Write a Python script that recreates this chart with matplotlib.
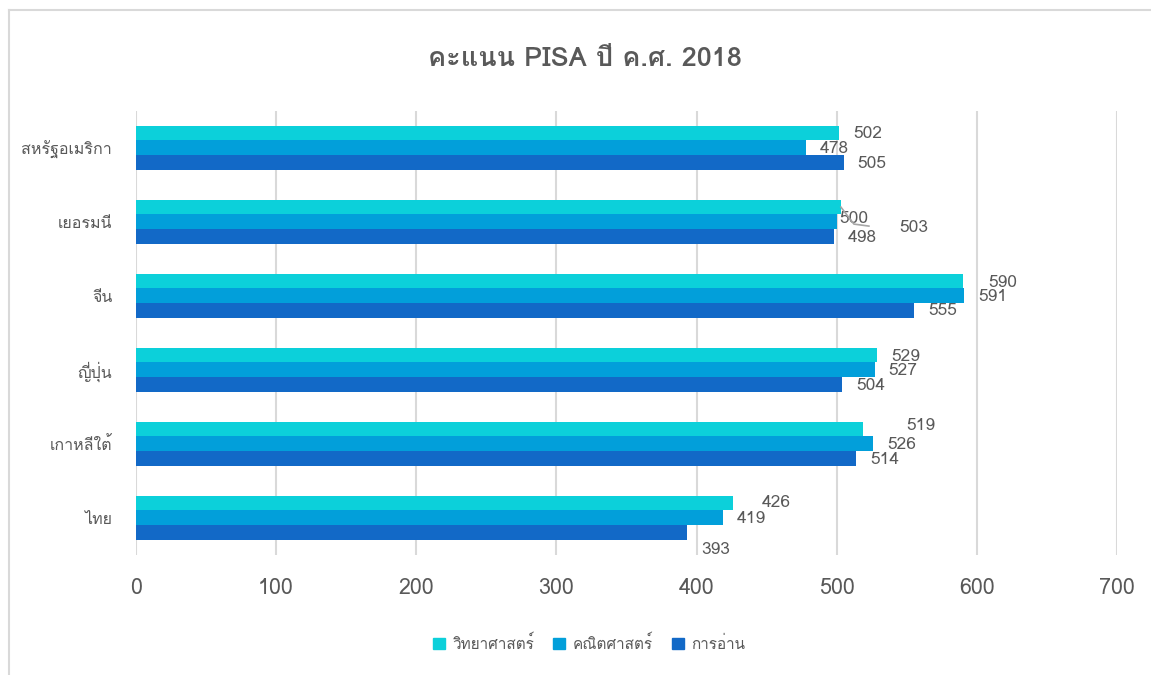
import matplotlib
matplotlib.use('Agg')
import matplotlib.pyplot as plt
import matplotlib.font_manager as fm
from matplotlib.lines import Line2D
from matplotlib.patches import Patch
import numpy as np

countries = ['ไทย', 'เกาหลีใต้', 'ญี่ปุ่น', 'จีน', 'เยอรมนี', 'สหรัฐอเมริกา']
science = [426, 519, 529, 590, 503, 502]
math = [419, 526, 527, 591, 500, 478]
reading = [393, 514, 504, 555, 498, 505]
series_names = ['วิทยาศาสตร์', 'คณิตศาสตร์', 'การอ่าน']
title = 'คะแนน PISA ปี ค.ศ. 2018'


# pick an installed font that has Thai glyphs, if there is one
def thai_font():
    try:
        from fontTools.ttLib import TTFont
    except ImportError:
        return None
    for f in fm.fontManager.ttflist:
        try:
            cmap = TTFont(f.fname, fontNumber=0, lazy=True).getBestCmap()
        except Exception:
            continue
        if cmap and 0x0E01 in cmap and 0x0E2D in cmap:
            return f.name
    return None


fams = ['DejaVu Sans']
tf = thai_font()
if tf:
    fams = [tf, 'DejaVu Sans']
plt.rcParams['font.family'] = fams

grey = '#595959'
colors = ['#0CD0DA', '#029FDA', '#1269C7']

fig = plt.figure(figsize=(11.51, 6.75), dpi=100)
ax = fig.add_axes([0.118, 0.178, 0.8525, 0.6577])

y = np.arange(len(countries))
h = 0.2
all_vals = [science, math, reading]
shifts = [h, 0, -h]
for vals, sh, c, name in zip(all_vals, shifts, colors, series_names):
    ax.barh(y + sh, vals, height=h, color=c, label=name, zorder=3)

ax.set_xlim(0, 700)
ax.set_ylim(-0.5, len(countries) - 0.5)

# label nudges in pixels (dx, dy) from default place, per series per country
nudges = [
    [(15, -2), (29, -5), (0, 0), (11, 0), (44, 19), (0, -1)],
    [(0, 0), (0, 0), (0, 0), (0, 0), (-11, -4), (0, 0)],
    [(0, 16), (0, 0), (0, 0), (0, -1), (0, 0), (0, 0)],
]
px = 72 / 100
for s, (vals, sh) in enumerate(zip(all_vals, shifts)):
    for i, v in enumerate(vals):
        dx, dy = nudges[s][i]
        ax.annotate(str(v), (v, y[i] + sh), xytext=((28.5 + dx) * px, -(1.5 + dy) * px),
                    textcoords='offset points', ha='center', va='center',
                    fontsize=12.5, color=grey, zorder=4)

# leader line for the moved germany science label (pixel offsets -> data)
gi = countries.index('เยอรมนี')
x0, y0 = ax.transData.transform((science[gi], y[gi] + h))
pts = ax.transData.inverted().transform([(x0, y0), (x0 + 13, y0 - 17), (x0 + 28, y0 - 19)])
ax.plot(pts[:, 0], pts[:, 1], color='#A6A6A6', lw=1.2, zorder=4, clip_on=False)

ax.set_xticks(range(0, 701, 100))
ax.set_yticks(y)
ax.set_yticklabels(countries)
ax.tick_params(axis='x', length=0, pad=17, labelsize=15.5, labelcolor=grey)
ax.tick_params(axis='y', length=0, pad=17, labelsize=11.5, labelcolor=grey)
ax.grid(axis='x', color='#D9D9D9', lw=1.5, zorder=0)
for sp in ax.spines.values():
    sp.set_visible(False)

fig.text(0.508, 0.913, title, ha='center', va='center', fontsize=19.5,
         fontweight='bold', color=grey)

handles = [Patch(color=c) for c in colors]
fig.legend(handles, series_names, loc='center', bbox_to_anchor=(0.512, 0.047),
           ncol=3, frameon=False, fontsize=11, labelcolor=grey,
           handlelength=0.8, handleheight=0.8, handletextpad=0.5, columnspacing=1.2)

# outer chart frame
fig.add_artist(Line2D([9 / 1151, 1], [1 - 10 / 675, 1 - 10 / 675], color='#D9D9D9', lw=1.5))
fig.add_artist(Line2D([9 / 1151, 9 / 1151], [0, 1 - 10 / 675], color='#D9D9D9', lw=1.5))

fig.savefig('out.png', dpi=100)
